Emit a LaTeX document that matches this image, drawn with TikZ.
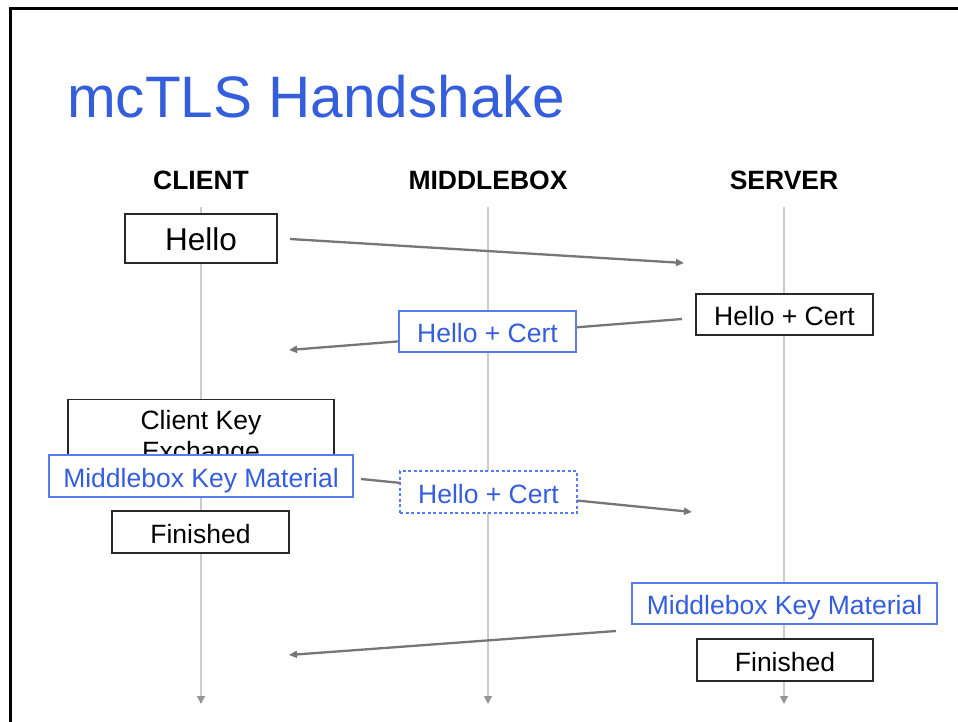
\documentclass[tikz,border=0pt]{standalone}
\usepackage{fontspec}
\setmainfont{Liberation Sans}
\usetikzlibrary{arrows.meta}
\definecolor{titleblue}{RGB}{52,94,220}
\definecolor{boxblue}{RGB}{88,124,236}
\definecolor{msggray}{RGB}{118,118,118}
\definecolor{lifegray}{RGB}{204,204,204}
\definecolor{tipgray}{RGB}{150,150,150}
\definecolor{boxedge}{RGB}{40,40,40}
\tikzset{
  msgbox/.style={draw=boxedge, line width=1.1pt, fill=white, inner sep=0pt,
    font=\fontsize{26.5}{31}\selectfont, text=black,
    text height=22pt, text depth=0pt},
  bluebox/.style={msgbox, draw=boxblue, text=titleblue},
  hdr/.style={font=\fontsize{26.5}{31}\selectfont\bfseries},
  msg/.style={draw=msggray, line width=2.3pt,
    -{Triangle[length=8pt,width=7pt]}},
  life/.style={draw=lifegray, line width=1.3pt,
    -{Triangle[length=8pt,width=8pt,color=tipgray]}}
}
\begin{document}
\begin{tikzpicture}[x=1pt,y=-1pt]
\useasboundingbox[fill=white] (0,0) rectangle (958,722);

% slide frame
\draw[line width=3pt, black] (10.5,722) -- (10.5,8.5) -- (958,8.5);

% title
\node[anchor=base west, text=titleblue, font=\fontsize{58.5}{70}\selectfont, inner sep=0pt]
  (title) at (67,118) {mcTLS Handshake};

% column headers
\node[hdr] (hclient) at (201,180) {CLIENT};
\node[hdr] (hmbox) at (488,180) {MIDDLEBOX};
\node[hdr] (hserver) at (784,180) {SERVER};

% lifelines
\coordinate (lc0) at (201,207); \coordinate (lc1) at (201,704);
\coordinate (lm0) at (488,207); \coordinate (lm1) at (488,704);
\coordinate (ls0) at (784,207); \coordinate (ls1) at (784,704);
\draw[life] (lc0) -- (lc1);
\draw[life] (lm0) -- (lm1);
\draw[life] (ls0) -- (ls1);

% message arrows
\coordinate (a1s) at (290,239); \coordinate (a1e) at (684,263);
\coordinate (a2s) at (682,319); \coordinate (a2e) at (289,350);
\coordinate (a3s) at (361,479); \coordinate (a3e) at (692,512);
\coordinate (a4s) at (616,631); \coordinate (a4e) at (289,655);
\draw[msg] (a1s) -- (a1e);
\draw[msg] (a2s) -- (a2e);
\draw[msg] (a3s) -- (a3e);
\draw[msg] (a4s) -- (a4e);

% message boxes
\node[msgbox, minimum width=152pt, minimum height=49pt, text height=24pt,
  font=\fontsize{31.5}{36}\selectfont] (hello) at (201,238.5) {Hello};
\node[msgbox, minimum width=177pt, minimum height=41pt] (shello) at (784.5,314.5) {Hello + Cert};
\node[bluebox, minimum width=177pt, minimum height=41pt] (mhello) at (487.5,331.5) {Hello + Cert};
\node[msgbox, text height=, text depth=, minimum width=266pt, minimum height=78pt, align=center,
  font=\fontsize{26.5}{31}\selectfont] (cke) at (201,438.5) {Client Key\\Exchange};
\node[bluebox, minimum width=304pt, minimum height=42pt] (cmkm) at (201,476) {Middlebox Key Material};
\node[msgbox, minimum width=177pt, minimum height=42pt] (cfin) at (200.5,532) {Finished};
\node[bluebox, dashed, dash pattern=on 3pt off 2.5pt, minimum width=177pt, minimum height=42pt]
  (mhello2) at (488.5,492) {Hello + Cert};
\node[bluebox, minimum width=305pt, minimum height=41pt] (smkm) at (784.5,603.5) {Middlebox Key Material};
\node[msgbox, minimum width=176pt, minimum height=42pt] (sfin) at (785,660) {Finished};
\end{tikzpicture}
\end{document}
